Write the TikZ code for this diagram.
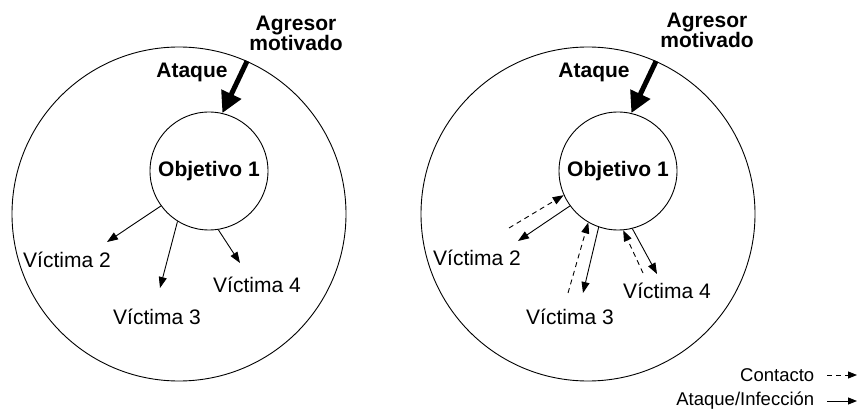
\documentclass[tikz,border=0pt]{standalone}
\usepackage{fontspec}
\setmainfont{Liberation Sans}
\usetikzlibrary{arrows.meta}
\tikzset{
  rotulo/.style={font=\fontsize{21}{20}\selectfont},
  leyenda/.style={font=\fontsize{18.5}{20}\selectfont},
  negrita/.style={font=\fontsize{21}{20}\selectfont\bfseries, align=center},
  golpe/.style={line width=5pt, -{Triangle[length=21pt,width=21pt]}},
  ataq/.style={line width=0.9pt, -{Triangle[length=11pt,width=8pt]}},
  cont/.style={ataq, dash pattern=on 5pt off 4pt},
}
\begin{document}
\begin{tikzpicture}[x=1pt,y=-1pt,line width=0.9pt]
  \useasboundingbox (0,0) rectangle (865,409);
  \def\panel#1#2{\node[circle,draw,minimum size=334pt,inner sep=0pt] (ext#1) at (179+#2,214) {};
    \node[circle,draw,minimum size=118pt,inner sep=0pt,negrita] (obj#1) at (209+#2,171) {Objetivo 1};
    \draw[golpe] (ext#1.66) -- (obj#1.77);}
  % Panel 1 : attack only
  \panel{1}{0}
  \node[negrita] (agr1) at (296,33) {Agresor\\motivado};
  \node[negrita] (atq1) at (192,72) {Ataque};
  \foreach \n/\ang/\px/\py/\lx/\ly in {2/216/107/242/67/260, 3/238/160/288/157/317, 4/279/240/263/257/285}{
    \coordinate (p1\n) at (\px,\py);
    \node[rotulo] (v1\n) at (\lx,\ly) {Víctima \n};
    \draw[ataq] (obj1.\ang) -- (p1\n);}
  % Panel 2 : contact and attack
  \panel{2}{409}
  \node[negrita] (agr2) at (707,30) {Agresor\\motivado};
  \node[negrita] (atq2) at (594,72) {Ataque};
  \foreach \n/\da/\qx/\qy/\ang/\px/\py/\lx/\ly in {2/204/509/228/216/518/241/477/258,
      3/240/568/293/251/583/293/570/317, 4/275/643/273/284/657/274/667/291}{
    \coordinate (q2\n) at (\qx,\qy);
    \coordinate (p2\n) at (\px,\py);
    \node[rotulo] (v2\n) at (\lx,\ly) {Víctima \n};
    \draw[cont] (q2\n) -- (obj2.\da);
    \draw[ataq] (obj2.\ang) -- (p2\n);}
  % Legend
  \node[leyenda,anchor=east] (ley1) at (818,375) {Contacto};
  \node[leyenda,anchor=east] (ley2) at (818,401) {Ataque/Infección};
  \coordinate (f1) at (857,375);
  \coordinate (f2) at (857,401);
  \draw[cont,-{Triangle[length=9pt,width=7pt]}] ([xshift=9pt]ley1.east) -- (f1);
  \draw[ataq,-{Triangle[length=9pt,width=7pt]}] ([xshift=9pt]ley2.east) -- (f2);
\end{tikzpicture}
\end{document}
